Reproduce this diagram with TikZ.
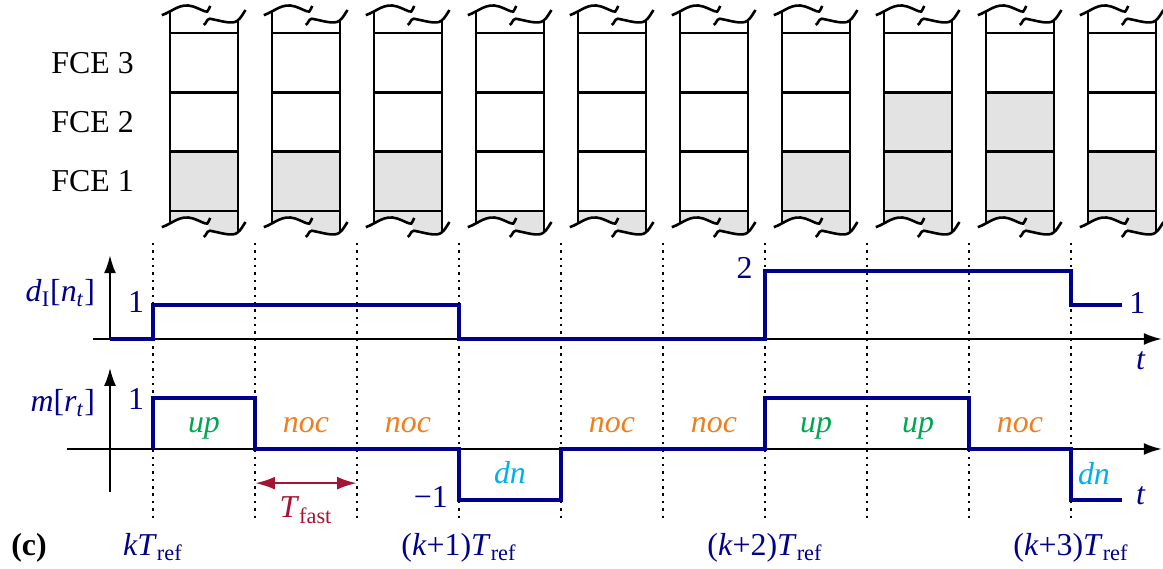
\documentclass[tikz,border=0pt]{standalone}
\usepackage{fontspec}
\setmainfont{Liberation Serif}
\usetikzlibrary{arrows.meta}

\definecolor{sigblue}{RGB}{0,0,140}
\definecolor{upgreen}{RGB}{0,166,81}
\definecolor{nocorange}{RGB}{240,125,30}
\definecolor{dncyan}{RGB}{0,176,236}
\definecolor{fastred}{RGB}{165,20,50}
\definecolor{fcegray}{RGB}{227,227,227}

\newcommand{\tsub}[1]{\textsubscript{#1}}
% broken edge of a buffer column, local to its left end
\newcommand{\cutpath}{(-0.16,0.35) .. controls (0.05,0.42) and (0.2,0.6) .. (0.45,0.52)
  .. controls (0.6,0.47) and (0.68,0.41) .. (0.73,0.42) .. controls (0.77,0.43) and (0.75,0.5) .. (0.79,0.53)
  (0.66,0.16) .. controls (0.71,0.17) and (0.71,0.27) .. (0.78,0.28)
  .. controls (1.0,0.24) and (1.22,0.16) .. (1.32,0.24) .. controls (1.4,0.3) and (1.43,0.38) .. (1.48,0.45)}

\tikzset{
  cellline/.style={line width=1.3pt},
  axisline/.style={line width=1pt,-{Latex[length=9pt,width=6pt]}},
  sigline/.style={sigblue,line width=2pt},
  tickline/.style={line width=1.2pt,dash pattern=on 1.2pt off 2.5pt},
  sigtext/.style={text=sigblue},
}

\begin{document}
\begin{tikzpicture}[x=0.9cm,y=0.9cm,inner sep=0pt,font=\fontsize{16}{19}\selectfont]
  \useasboundingbox (-3,-2.353) rectangle (19.804,8.804);

  % buffer columns
  \foreach \i/\g in {0/1,1/1,2/1,3/0,4/0,5/0,6/1,7/2,8/2,9/1}{
    \pgfmathsetmacro{\xl}{2*\i+1/3}
    \pgfmathsetmacro{\xr}{\xl+4/3}
    \fill[fcegray] (\xl,4.667) rectangle (\xr,4.667+\g*1.163);
    \begin{scope}
      \clip (\xl,3.8) rectangle (\xr,4.667);
      \fill[fcegray,shift={(\xl,4)}] (-0.3,0.667) -- (-0.16,0.35) .. controls (0.05,0.42) and (0.2,0.6) .. (0.45,0.52)
        .. controls (0.6,0.47) and (0.68,0.41) .. (0.73,0.42) -- (0.78,0.28)
        .. controls (1.0,0.24) and (1.22,0.16) .. (1.32,0.24) .. controls (1.4,0.3) and (1.43,0.38) .. (1.48,0.45)
        -- (1.5,0.667) -- cycle;
    \end{scope}
    \foreach \y in {4.667,5.83,6.993,8.157}
      \draw[cellline] (\xl,\y) -- (\xr,\y);
    \draw[cellline] (\xl,4.42) -- (\xl,8.577) (\xr,4.25) -- (\xr,8.407);
    \draw[cellline,shift={(\xl,8.157)}] \cutpath;
    \draw[cellline,shift={(\xl,4)}] \cutpath;
  }
  \node[anchor=west] (fce1) at (-2,5.25) {FCE 1};
  \node[anchor=west] (fce2) at (-2,6.41) {FCE 2};
  \node[anchor=west] (fce3) at (-2,7.575) {FCE 3};

  % reference instants
  \foreach \k in {0,...,9}
    \draw[tickline] (2*\k,4.04) -- (2*\k,-1.45);

  % axes
  \draw[axisline] (-1.18,2.157) -- (19.78,2.157);
  \draw[axisline] (-0.843,2.157) -- (-0.843,3.8);
  \draw[axisline] (-1.69,0) -- (19.78,0);
  \draw[axisline] (-0.843,-0.84) -- (-0.843,1.59);

  % signals
  \draw[sigline] (-0.843,2.157) -- (0,2.157) -- (0,2.827) -- (6,2.827) -- (6,2.157) -- (12,2.157)
    -- (12,3.497) -- (18,3.497) -- (18,2.827) -- (19,2.827);
  \draw[sigline] (0,0) -- (0,1) -- (2,1) -- (2,0) -- (6,0) -- (6,-1) -- (8,-1) -- (8,0) -- (12,0)
    -- (12,1) -- (16,1) -- (16,0) -- (18,0) -- (18,-1) -- (19,-1);

  \node[sigtext,anchor=east] (dlab) at (-1.13,3.06) {\textit{d}\tsub{I}[\textit{n}\tsub{\textit{t}}]};
  \node[sigtext,anchor=east] (mlab) at (-1.13,0.9) {\textit{m}[\textit{r}\tsub{\textit{t}}]};
  \node[sigtext] (done) at (-0.33,2.88) {1};
  \node[sigtext] (mone) at (-0.33,0.98) {1};
  \node[sigtext] (dtwo) at (11.6,3.55) {2};
  \node[sigtext] (dend) at (19.3,2.86) {1};
  \node[sigtext] (dt) at (19.37,1.73) {\textit{t}};
  \node[sigtext] (mt) at (19.37,-0.92) {\textit{t}};
  \node[sigtext] (mminus) at (5.45,-0.95) {−1};

  % modes per fast period
  \foreach \k/\lab/\col in {0/up/upgreen,1/noc/nocorange,2/noc/nocorange,4/noc/nocorange,
      5/noc/nocorange,6/up/upgreen,7/up/upgreen,8/noc/nocorange}
    \node[text=\col,anchor=base] (mode\k) at (2*\k+1,0.33) {\textit{\lab}};
  \node[text=dncyan,anchor=base] (mode3) at (7,-0.67) {\textit{dn}};
  \node[text=dncyan,anchor=base] (mode9) at (18.45,-0.7) {\textit{dn}};

  % fast period
  \coordinate (fa) at (2,-0.67);
  \coordinate (fb) at (4,-0.67);
  \draw[fastred,line width=1.3pt,{Latex[length=10pt,width=6.5pt]}-{Latex[length=10pt,width=6.5pt]}] (fa) -- (fb);
  \node[text=fastred,anchor=base] (tfast) at (3,-1.35) {\textit{T}\tsub{fast}};

  \node[sigtext,anchor=base] (tk0) at (0,-2.09) {\textit{kT}\tsub{ref}};
  \node[sigtext,anchor=base] (tk1) at (6,-2.09) {(\textit{k}+1)\textit{T}\tsub{ref}};
  \node[sigtext,anchor=base] (tk2) at (12,-2.09) {(\textit{k}+2)\textit{T}\tsub{ref}};
  \node[sigtext,anchor=base] (tk3) at (18,-2.09) {(\textit{k}+3)\textit{T}\tsub{ref}};
  \node[anchor=base] (panel) at (-2.43,-2.08) {\textbf{(c)}};
\end{tikzpicture}
\end{document}
